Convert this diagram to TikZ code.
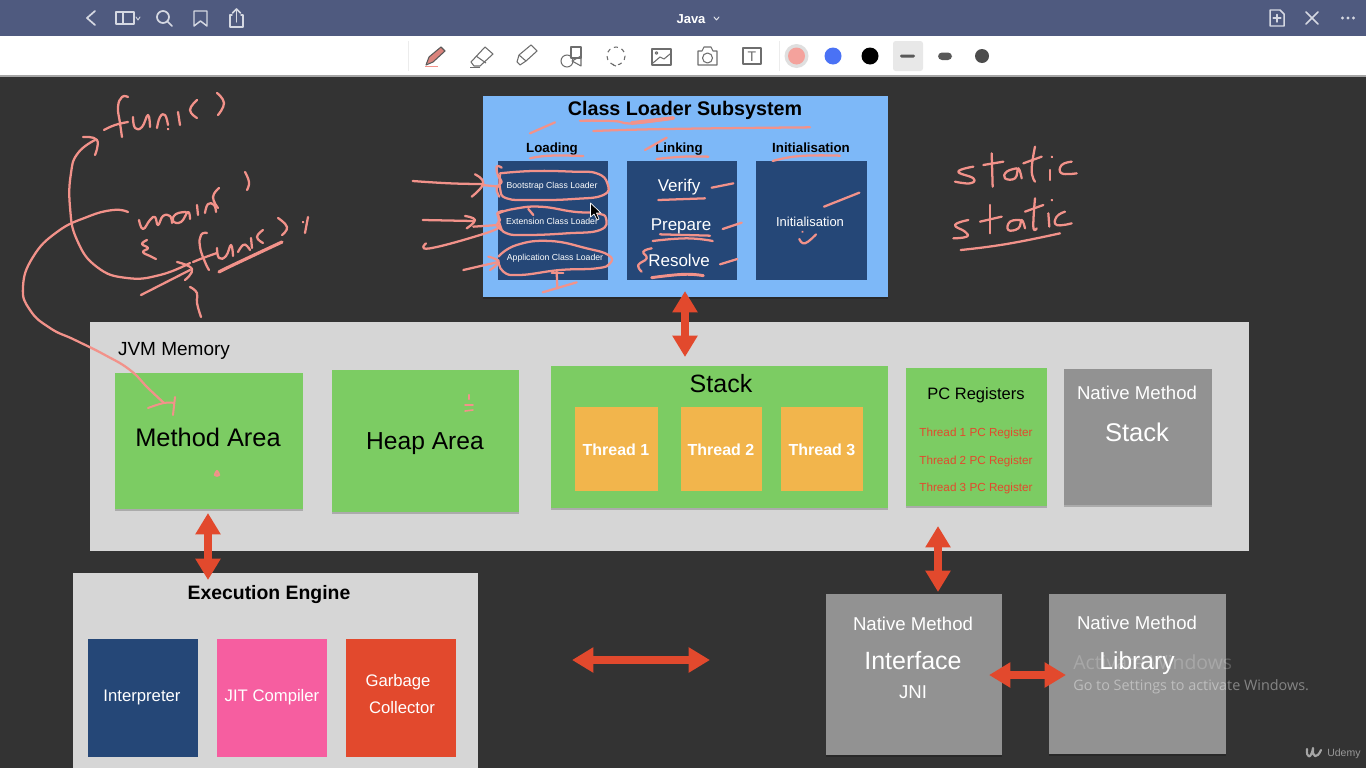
\documentclass[tikz,border=0pt]{standalone}
\usepackage{fontspec}
\setmainfont{Liberation Sans}
\newfontfamily\winfont{Open Sans}
\usetikzlibrary{arrows.meta,shadows}
\definecolor{pageBg}{HTML}{333333}
\definecolor{topBar}{HTML}{4F5A7F}
\definecolor{ink}{HTML}{F2928A}
\definecolor{clBlue}{HTML}{7DB8F8}
\definecolor{navy}{HTML}{254777}
\definecolor{memGrey}{HTML}{D6D6D6}
\definecolor{leaf}{HTML}{7CCC63}
\definecolor{amber}{HTML}{F2B54C}
\definecolor{natGrey}{HTML}{929292}
\definecolor{hotPink}{HTML}{F65EA0}
\definecolor{redBox}{HTML}{E2492D}
\definecolor{iconGrey}{HTML}{6E6E6E}
\definecolor{barIcon}{HTML}{D5D8E2}
\definecolor{penBlue}{HTML}{4A72F5}
\newcommand{\fpx}[1]{\pgfmathsetmacro\ftmp{#1*0.75}\fontsize{\ftmp}{\ftmp}\selectfont}
\newcommand{\bx}[7][]{\node[panel,fill=#3,#1,minimum width={(#6-#4)*0.75pt},minimum height={(#7-#5)*0.75pt}] (#2) at (#4,#5) {};}
\newcommand{\hs}[2][]{\draw[inkline,#1] plot[smooth,tension=.8] coordinates {#2};}
\newcommand{\lbl}[6][]{\node[lbltext,text=#3,font=\fpx{#4},#1] (#2) at (#5,#6)}
\tikzset{
  panel/.style={anchor=north west,inner sep=0pt,outer sep=0pt,draw=none},
  softshadow/.style={drop shadow={shadow xshift=0pt,shadow yshift=-1.5pt,opacity=.2,fill=black}},
  lbltext/.style={anchor=base,inner sep=0pt,outer sep=0pt},
  inkline/.style={draw=ink,line width=1.7pt,line cap=round,line join=round},
  redarrow/.style={draw=redBox,line width=#1,{Triangle[length=16pt,width=18pt]}-{Triangle[length=16pt,width=18pt]}},
  redarrow/.default=5.5pt,
  baricon/.style={draw=barIcon,line width=1.1pt,line cap=round,line join=round},
  toolicon/.style={draw=iconGrey,line width=.8pt,line join=round}
}
\begin{document}
\begin{tikzpicture}[x=0.75pt,y=-0.75pt]
\useasboundingbox (0,0) rectangle (1366,768);
% page and window chrome
\fill[pageBg] (0,0) rectangle (1366,768);
\fill[topBar] (0,0) rectangle (1366,36);
\fill[white] (0,36) rectangle (1366,75);
\fill[gray!70] (0,75) rectangle (1366,76.5);
% top bar icons
\draw[baricon,line width=1.3pt] (95,11) -- (87,18) -- (95,25);
\draw[baricon] (116,12) rectangle (134,24); \draw[baricon] (123,12) -- (123,24);
\draw[baricon,line width=.7pt] (136,17) -- (138,20) -- (140,17);
\draw[baricon,line width=1.3pt] (163,17) circle (6); \draw[baricon,line width=1.3pt] (167.5,21.5) -- (172,26);
\draw[baricon] (194,11) -- (207,11) -- (207,26) -- (200.5,21) -- (194,26) -- cycle;
\draw[baricon] (232,15) -- (230,15) -- (230,27) -- (243,27) -- (243,15) -- (241,15);
\draw[baricon] (236.5,22) -- (236.5,9); \draw[baricon] (232.5,13) -- (236.5,9) -- (240.5,13);
\node[lbltext,text=white,font=\fpx{13}\bfseries] (javaTitle) at (691,23) {Java};
\draw[baricon,line width=.7pt,draw=barIcon!70] (714,17) -- (716.5,20) -- (719,17);
\draw[baricon] (1270,10) -- (1280,10) -- (1284,14) -- (1284,26) -- (1270,26) -- cycle;
\draw[baricon] (1277,14.5) -- (1277,22); \draw[baricon] (1273.2,18.2) -- (1280.8,18.2);
\draw[baricon,line width=1.3pt] (1306,12) -- (1318,24); \draw[baricon,line width=1.3pt] (1318,12) -- (1306,24);
\foreach \dx in {1342.5,1348,1353.5} \fill[barIcon] (\dx,18) circle (1.7);
% toolbar
\draw[gray!15,line width=.5pt] (408,41) -- (408,71);
\draw[gray!15,line width=.5pt] (779,41) -- (779,71);
\fill[ink!90!black] (426,64) -- (429,57) -- (441,47) -- (445,51) -- (433,62) -- cycle;
\draw[toolicon,draw=black!65] (426,65) -- (429,57) -- (441,47) -- (445,51) -- (433,62) -- cycle;
\draw[ink] (425,66.5) -- (438,66.5);
\draw[toolicon] (471,62) -- (485,47) -- (493,54) -- (480,66) -- (474,66) -- cycle; \draw[toolicon] (476,56) -- (486,63);
\draw[toolicon] (470,67.5) -- (480,67.5);
\draw[toolicon] (517,62) -- (519,55) -- (531,45) -- (537,51) -- (526,61) -- (520,65) -- cycle; \draw[toolicon] (519,55) -- (526,61);
\draw[toolicon] (571,47) rectangle (581,58);
\draw[toolicon] (567,61) circle (6);
\draw[toolicon] (581,56) -- (581,66) -- (572,61) -- cycle;
\draw[toolicon,dashed] (616,56) circle (9);
\draw[toolicon,dashed] (613,65) -- (616,66);
\draw[toolicon] (652,49) rectangle (671,65);
\draw[toolicon] (653,63) -- (660,57) -- (664,59) -- (670,54);
\draw[toolicon] (656.5,53) circle (1.3);
\draw[toolicon] (698,51) -- (702,51) -- (704,47) -- (711,47) -- (713,51) -- (717,51) -- (717,65) -- (698,65) -- cycle;
\draw[toolicon] (707.5,58) circle (5);
\draw[toolicon] (743,48) rectangle (761,64);
\node[lbltext,text=iconGrey,font=\fpx{14}] (toolT) at (752,61) {T};
\fill[gray!25] (796.5,56) circle (12);
\fill[ink!85!white] (796.5,56) circle (8.5);
\fill[penBlue] (833,56) circle (8.5);
\fill[black] (870,56) circle (8.5);
\fill[gray!18,rounded corners=2pt] (893,41) rectangle (923,71);
\fill[black!65,rounded corners=1pt] (900,54.5) rectangle (915,57.5);
\fill[black!65,rounded corners=3pt] (938,52.5) rectangle (952,60);
\fill[black!70] (982,56) circle (7);

% class loader subsystem
\bx[softshadow]{clSub}{clBlue}{483}{96}{888}{297}
\bx{boxLoading}{navy}{498}{161}{608}{280}
\bx{boxLinking}{navy}{627}{161}{737}{280}
\bx{boxInit}{navy}{756}{161}{867}{280}
\lbl{tClass}{black}{19.7}{685}{115} {\bfseries Class Loader Subsystem};
\lbl{tLoading}{black}{13.3}{552}{152} {\bfseries Loading};
\lbl{tLinking}{black}{13.3}{679}{152} {\bfseries Linking};
\lbl{tInitH}{black}{13.3}{811}{152} {\bfseries Initialisation};
\lbl{tBoot}{white}{8.7}{552}{188} {Bootstrap Class Loader};
\lbl{tExt}{white}{8.7}{552}{224} {Extension Class Loader};
\lbl{tApp}{white}{8.7}{555}{260} {Application Class Loader};
\lbl{tVerify}{white}{17}{679}{191} {Verify};
\lbl{tPrepare}{white}{17}{681}{230} {Prepare};
\lbl{tResolve}{white}{17}{679}{266} {Resolve};
\lbl{tInit}{white}{13}{810}{226} {Initialisation};

% JVM memory
\bx{jvm}{memGrey}{90}{322}{1249}{551}
\lbl{tJvm}{black}{19}{174}{355} {JVM Memory};
\bx[softshadow]{method}{leaf}{115}{373}{303}{509}
\bx[softshadow]{heap}{leaf}{332}{370}{519}{512}
\bx[softshadow]{stack}{leaf}{551}{366}{888}{508}
\bx{th1}{amber}{575}{407}{658}{491}
\bx{th2}{amber}{681}{407}{762}{491}
\bx{th3}{amber}{781}{407}{863}{491}
\bx[softshadow]{pcreg}{leaf}{906}{368}{1047}{506}
\bx[softshadow]{natstack}{natGrey}{1064}{369}{1212}{505}
\lbl{tMethod}{black}{25.4}{208}{446} {Method Area};
\lbl{tHeap}{black}{24.6}{425}{449} {Heap Area};
\lbl{tStack}{black}{25}{721}{392} {Stack};
\lbl{tTh1}{white}{16}{616}{455} {\bfseries Thread 1};
\lbl{tTh2}{white}{16}{721}{455} {\bfseries Thread 2};
\lbl{tTh3}{white}{16}{822}{455} {\bfseries Thread 3};
\lbl{tPc}{black}{16.5}{976}{399} {PC Registers};
\lbl{tPc1}{redBox}{11.7}{976}{436} {Thread 1 PC Register};
\lbl{tPc2}{redBox}{11.7}{976}{464} {Thread 2 PC Register};
\lbl{tPc3}{redBox}{11.7}{976}{491} {Thread 3 PC Register};
\lbl{tNm}{white}{18.6}{1137}{399} {Native Method};
\lbl{tNs}{white}{25.6}{1137}{441} {Stack};

% execution engine
\bx{exec}{memGrey}{73}{573}{478}{768}
\bx{interp}{navy}{88}{639}{198}{757}
\bx{jit}{hotPink}{217}{639}{327}{757}
\bx{gc}{redBox}{346}{639}{456}{757}
\lbl{tExec}{black}{19.4}{269}{599} {\bfseries Execution Engine};
\lbl{tInterp}{white}{16.7}{142}{701} {Interpreter};
\lbl{tJit}{white}{16.7}{272}{701} {JIT Compiler};
\lbl{tGarb}{white}{16.7}{398}{686} {Garbage};
\lbl{tColl}{white}{16.7}{402}{713} {Collector};

% native
\bx[softshadow]{nmi}{natGrey}{826}{594}{1002}{755}
\bx[softshadow]{nml}{natGrey}{1049}{594}{1226}{754}
\lbl{tNmi}{white}{18.6}{913}{630} {Native Method};
\lbl{tIface}{white}{25}{913}{669} {Interface};
\lbl{tJni}{white}{18.6}{913}{698} {JNI};
\lbl{tNml}{white}{18.6}{1137}{629} {Native Method};
\lbl{tLib}{white}{24.6}{1137}{669} {Library};

% red double arrows
\coordinate (a1t) at (685,291); \coordinate (a1b) at (685,357);
\coordinate (a2t) at (208,513); \coordinate (a2b) at (208,580);
\coordinate (a3t) at (938,526); \coordinate (a3b) at (938,592);
\coordinate (a4l) at (572,660); \coordinate (a4r) at (710,660);
\coordinate (a5l) at (989,675); \coordinate (a5r) at (1066,675);
\draw[redarrow] (a1t) -- (a1b);
\draw[redarrow] (a2t) -- (a2b);
\draw[redarrow] (a3t) -- (a3b);
\draw[redarrow] (a4l) -- (a4r);
\draw[redarrow=6.5pt] (a5l) -- (a5r);

% handwriting, top left (full pixel coordinates)
\hs{(128,97)(122,97)(118,107)(120,123)(122,137)}
\hs{(104,130)(115,125)(128,122)}
\hs{(133,117)(135,128)(142,127)(148,115)(150,127)}
\hs{(157,128)(160,117)(165,115)(168,125)}
\hs{(178,112)(180,125)}
\hs{(168,129)(168.3,129.3)}
\hs{(197,100)(190,110)(197,118)}
\hs{(217,93)(224,103)(218,115)}
\hs{(190,263)(160,275)(127,278)(97,267)(77,240)(70,207)(71,173)(78,153)(95,140)}
\hs{(83,137)(97,140)(95,155)}
\hs{(139,220)(143,229)(150,220)(155,217)(158,225)(163,216)(170,216)(172,223)}
\hs{(186,212)(176,214)(173,221)(181,222)(188,212)(190,219)}
\hs{(197,205)(198,215)}
\hs{(205,213)(208,204)(214,205)(216,212)}
\hs{(219,188)(213,197)(218,208)}
\hs{(245,172)(249,182)(247,190)}
\hs{(147,240)(142,244)(148,248)(143,252)(150,256)(156,259)}
\hs{(207,233)(201,235)(200,247)(205,262)(209,270)}
\hs{(193,262)(203,258)(217,253)}
\hs{(217,248)(219,258)(226,256)(231,245)(233,256)}
\hs{(238,252)(243,245)(247,246)(250,250)}
\hs{(251,238)(252,248)}
\hs{(263,230)(257,237)(263,243)}
\hs{(278,218)(287,227)(282,235)}
\hs{(308,217)(305,233)}
\hs{(303,222)(303.3,222.3)}
\hs[line width=2.4pt]{(219,272)(233,265)(282,242)}
\hs{(141,295)(190,270)}
\hs{(177,262)(192,269)(185,280)}
\hs{(190,287)(197,293)(197,303)(201,317)}
\hs{(128,212)(113,210)(87,217)(57,232)(33,257)(23,287)(30,310)(50,328)(75,340)(105,355)(130,370)(148,388)(164,403)}
\hs[line width=1.5pt]{(148,408)(164,403)(174,403)}
\hs[line width=1.5pt]{(175,397)(173,415)}
\hs{(217,471)(215,475)(219,475)(217,471)}
\hs{(469,395)(469,399)}
\hs[line width=1.2pt]{(465,405)(473,405)}
\hs[line width=1.2pt]{(465,411)(473,410)}

% handwriting on the class loader box (zoom coordinates)
\begin{scope}[shift={(400,85)},x=0.25pt,y=-0.25pt]
\hs{(390,145)(465,112)}
\hs{(540,107)(640,108)(700,115)(820,100)}
\hs[line width=2.8pt]{(695,114)(820,99)}
\hs{(580,138)(800,132)(1230,127)}
\hs{(735,195)(800,158)}
\hs{(390,220)(450,212)(550,213)}
\hs{(770,222)(850,215)(925,215)}
\hs{(1118,228)(1200,213)(1320,212)}
\hs{(300,265)(400,258)(520,260)(590,265)(622,295)(610,330)(520,342)(400,345)(320,340)(300,310)(300,270)}
\hs{(305,248)(290,245)(295,275)(305,290)(290,310)(298,335)}
\hs{(38,288)(150,295)(245,297)}
\hs{(225,268)(250,295)(215,335)}
\hs{(245,300)(300,305)}
\hs{(295,385)(340,372)(420,365)(520,380)(590,385)(618,400)(600,435)(500,445)(380,450)(320,445)(300,420)(295,385)}
\hs{(310,378)(292,385)(300,405)(290,420)(305,435)}
\hs{(385,372)(400,390)}
\hs{(68,405)(220,408)}
\hs{(195,393)(225,405)(200,430)}
\hs{(220,425)(295,420)}
\hs{(78,475)(90,490)(250,447)(300,425)}
\hs{(295,515)(350,480)(450,468)(560,490)(625,510)(630,535)(590,550)(480,555)(360,570)(310,560)(295,525)}
\hs{(190,555)(290,532)}
\hs{(265,515)(295,530)(270,555)}
\hs{(428,622)(530,592)}
\hs{(470,560)(472,610)}
\hs{(455,565)(490,565)}
\hs{(775,345)(915,340)}
\hs{(935,308)(1000,295)}
\hs{(780,448)(930,452)}
\hs{(758,468)(860,460)(938,468)}
\hs{(968,432)(1025,413)}
\hs[line width=2.2pt]{(755,578)(850,568)(910,572)}
\hs{(755,490)(730,500)(740,520)(715,540)(725,560)}
\hs{(960,538)(1012,522)}
\hs{(1272,365)(1378,323)}
\hs{(1198,462)(1215,475)(1248,448)}
\hs{(1207,440)(1207.5,440.5)}
\end{scope}

% mouse cursor
\draw[fill=black,draw=white,line width=.5pt,line join=round] (590.5,203) -- (590.5,217) -- (594,214) -- (597,220) -- (599,219) -- (596.5,213) -- (601,213) -- cycle;

% static static
\begin{scope}[shift={(940,140)},x=0.25pt,y=-0.25pt]
\hs{(100,80)(55,95)(100,115)(90,130)(45,125)}
\hs{(155,40)(158,140)}
\hs{(130,75)(190,65)}
\hs{(230,85)(200,95)(195,115)(225,115)(235,85)(245,115)}
\hs{(285,20)(275,90)(285,125)}
\hs{(250,70)(305,50)}
\hs{(330,90)(330,120)}
\hs{(335,50)(336,51)}
\hs{(395,65)(365,75)(365,100)(410,100)}
\hs{(85,240)(45,255)(75,275)(80,290)(40,295)}
\hs{(150,195)(150,280)}
\hs{(120,245)(185,230)}
\hs{(240,240)(210,245)(205,270)(235,265)(245,240)(255,265)}
\hs{(285,175)(280,260)(290,265)}
\hs{(255,215)(310,195)}
\hs{(325,220)(328,260)}
\hs{(335,180)(336,181)}
\hs{(375,215)(350,230)(350,255)(395,250)}
\hs{(62,330)(200,312)(360,280)}
\end{scope}

% overlays
\node[anchor=base west,inner sep=0pt,text=white,text opacity=.2,font=\winfont\fpx{19.4}] (winA) at (1073,669) {Activate Windows};
\node[anchor=base west,inner sep=0pt,text=white,text opacity=.4,font=\winfont\fpx{14.4}] (winB) at (1073,690) {Go to Settings to activate Windows.};
\draw[draw=gray!70,line width=1.6pt,line cap=round,line join=round] (1307,749) .. controls (1306,758) and (1311,760) .. (1313,748) .. controls (1312,758) and (1317,759) .. (1321,750);
\node[anchor=base west,inner sep=0pt,text=gray!80,font=\fpx{10.5}] (udemy) at (1327,756) {Udemy};
\end{tikzpicture}
\end{document}
